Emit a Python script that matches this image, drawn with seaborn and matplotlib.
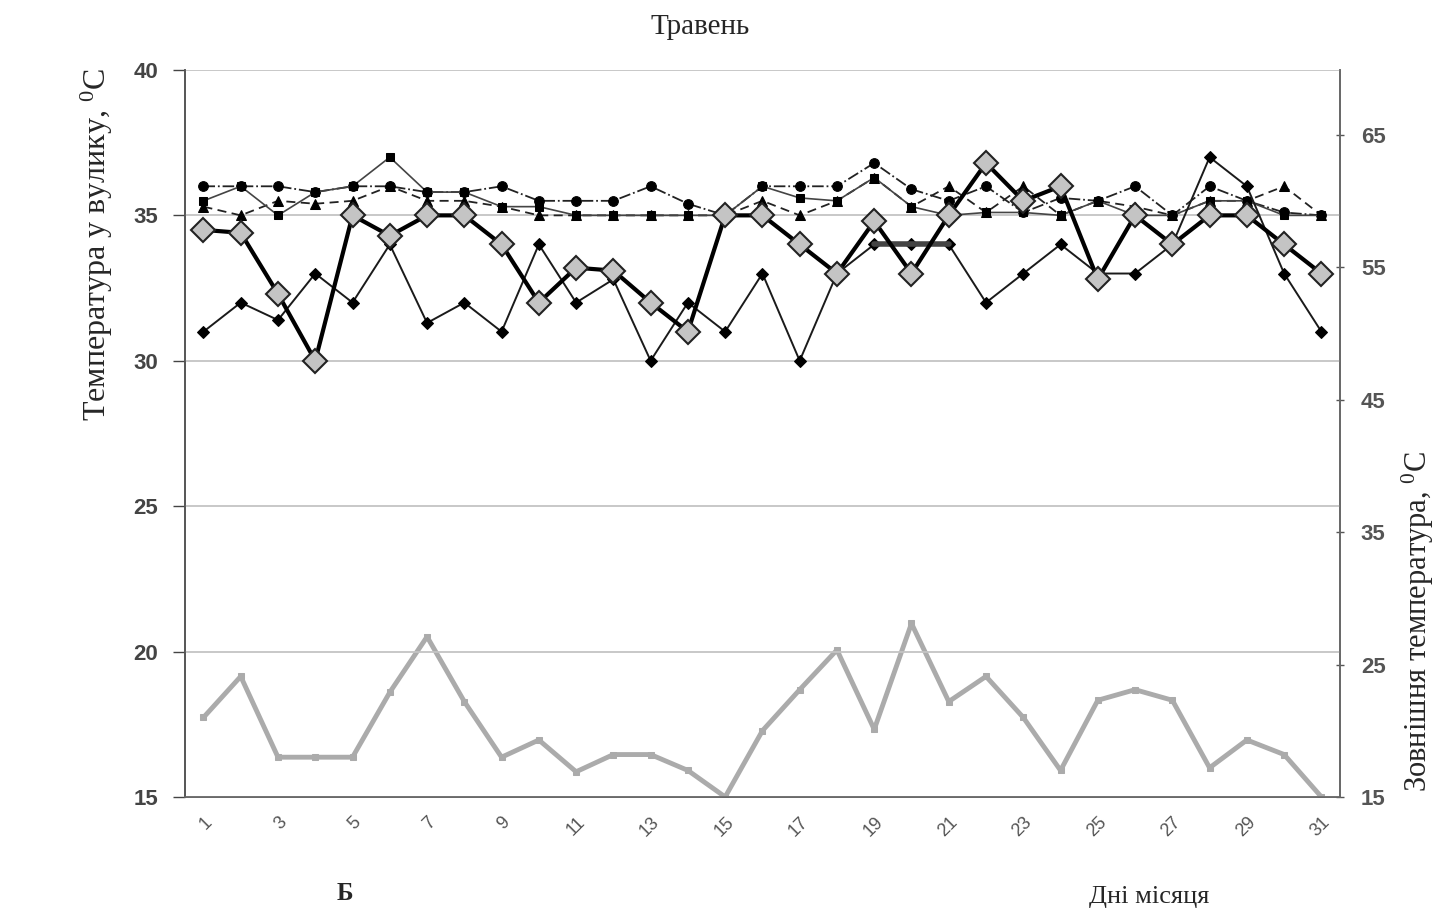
import numpy as np
import pandas as pd
import matplotlib
matplotlib.use("Agg")
import matplotlib.pyplot as plt
import seaborn as sns

# ---------------- data ----------------
days = list(range(1, 32))
tick_days = list(range(1, 32, 2))
left_ticks = [15, 20, 25, 30, 35, 40]
right_ticks = [15, 25, 35, 45, 55, 65]

hive_a = [34.5, 34.4, 32.3, 30.0, 35.0, 34.3, 35.0, 35.0, 34.0, 32.0, 33.2, 33.1, 32.0, 31.0, 35.0, 35.0,
          34.0, 33.0, 34.8, 33.0, 35.0, 36.8, 35.5, 36.0, 32.8, 35.0, 34.0, 35.0, 35.0, 34.0, 33.0]
hive_b = [31.0, 32.0, 31.4, 33.0, 32.0, 34.0, 31.3, 32.0, 31.0, 34.0, 32.0, 32.8, 30.0, 32.0, 31.0, 33.0,
          30.0, 33.0, 34.0, 34.0, 34.0, 32.0, 33.0, 34.0, 33.0, 33.0, 34.0, 37.0, 36.0, 33.0, 31.0]
hive_c = [35.5, 36.0, 35.0, 35.8, 36.0, 37.0, 35.8, 35.8, 35.3, 35.3, 35.0, 35.0, 35.0, 35.0, 35.0, 36.0,
          35.6, 35.5, 36.3, 35.3, 35.0, 35.1, 35.1, 35.0, 35.5, 35.0, 35.0, 35.5, 35.5, 35.0, 35.0]
hive_d = [36.0, 36.0, 36.0, 35.8, 36.0, 36.0, 35.8, 35.8, 36.0, 35.5, 35.5, 35.5, 36.0, 35.4, 35.0, 36.0,
          36.0, 36.0, 36.8, 35.9, 35.5, 36.0, 35.1, 35.6, 35.5, 36.0, 35.0, 36.0, 35.5, 35.1, 35.0]
hive_e = [35.3, 35.0, 35.5, 35.4, 35.5, 36.0, 35.5, 35.5, 35.3, 35.0, 35.0, 35.0, 35.0, 35.0, 35.0, 35.5,
          35.0, 35.5, 36.3, 35.3, 36.0, 35.1, 36.0, 35.0, 35.5, 35.3, 35.0, 35.5, 35.5, 36.0, 35.0]
short_days = [19, 20, 21]
short_vals = [34.0, 34.0, 34.0]
outside = [21.0, 24.1, 18.0, 18.0, 18.0, 22.9, 27.1, 22.2, 18.0, 19.3, 16.9, 18.2, 18.2, 17.0, 15.0, 20.0,
           23.1, 26.1, 20.1, 28.1, 22.2, 24.1, 21.0, 17.0, 22.3, 23.1, 22.3, 17.2, 19.3, 18.2, 15.0]

title = "Травень"
ylabel_left = "Температура у вулику, $^0$C"
ylabel_right = "Зовнішня температура, $^0$C"
xlabel = "Дні місяця"
panel = "Б"

# ---------------- style ----------------
sns.set_theme(style="white")
plt.rcParams["font.family"] = ["Liberation Sans", "DejaVu Sans"]
plt.rcParams["mathtext.fontset"] = "custom"
plt.rcParams["mathtext.rm"] = "Liberation Serif"
plt.rcParams["mathtext.it"] = "Liberation Serif"
serif = ["Liberation Serif", "DejaVu Serif"]

df = pd.DataFrame({"day": days, "a": hive_a, "b": hive_b, "c": hive_c,
                   "d": hive_d, "e": hive_e, "out": outside})
df_short = pd.DataFrame({"day": short_days, "v": short_vals})

fig = plt.figure(figsize=(14.44, 9.16), dpi=100)
ax = fig.add_axes([0.128, 0.130, 0.800, 0.7936])
ax2 = ax.twinx()

# outside temperature on the right axis
sns.lineplot(data=df, x="day", y="out", ax=ax2, color="#ababab", lw=3.5,
             marker="s", markersize=5, markeredgecolor="#ababab", zorder=2)

# hive series on the left axis
sns.lineplot(data=df, x="day", y="e", ax=ax, color="#222222", lw=1.3, linestyle=(0, (5, 3)),
             marker="^", markersize=7, markeredgecolor="black", markerfacecolor="black")
sns.lineplot(data=df, x="day", y="d", ax=ax, color="#222222", lw=1.3, linestyle="-.",
             marker="o", markersize=7, markeredgecolor="black", markerfacecolor="black")
sns.lineplot(data=df, x="day", y="c", ax=ax, color="#444444", lw=1.2,
             marker="s", markersize=6, markeredgecolor="black", markerfacecolor="black")
sns.lineplot(data=df, x="day", y="b", ax=ax, color="#1a1a1a", lw=1.4,
             marker="D", markersize=6, markeredgecolor="black", markerfacecolor="black")
sns.lineplot(data=df_short, x="day", y="v", ax=ax, color="#444444", lw=4)
sns.lineplot(data=df, x="day", y="a", ax=ax, color="black", lw=3,
             marker="D", markersize=12, markeredgecolor="#222222", markeredgewidth=1.5,
             markerfacecolor="#c4c4c4")

ax.set_zorder(ax2.get_zorder() + 1)
ax.patch.set_visible(False)

# axes limits/ticks
ax.set_xlim(0.5, 31.5)
ax.set_ylim(15, 40)
ax2.set_ylim(15, 69.9)
ax.set_yticks(left_ticks)
ax2.set_yticks(right_ticks)
ax.set_xticks(tick_days)
ax.set_xticklabels([str(d) for d in tick_days], rotation=45, ha="right", va="top",
                   rotation_mode="anchor", fontsize=13, color="#555555")
ax.tick_params(axis="y", labelsize=16, colors="#444444", length=9, width=1, direction="out", pad=10)
ax2.tick_params(axis="y", labelsize=16, colors="#555555", length=6, width=1, direction="inout", pad=12)
ax.tick_params(axis="x", length=4, direction="out", pad=8)
for lab in ax.get_yticklabels() + ax2.get_yticklabels():
    lab.set_fontweight("bold")

ax.set_xlabel("")
ax.set_ylabel("")
ax2.set_ylabel("")
ax.yaxis.grid(True, color="#c4c4c4", lw=1.3)
ax.xaxis.grid(False)

for a in (ax, ax2):
    a.spines["top"].set_visible(False)
    a.spines["left"].set_color("#555555")
    a.spines["right"].set_color("#666666")
    a.spines["bottom"].set_color("#666666")
    for s in ("left", "right", "bottom"):
        a.spines[s].set_linewidth(1.2)

# texts
fig.text(0.485, 0.970, title, ha="center", va="center", fontsize=21, family=serif)
fig.text(0.067, 0.733, ylabel_left, ha="center", va="center", rotation=90, fontsize=23, family=serif)
fig.text(0.982, 0.322, ylabel_right, ha="center", va="center", rotation=90, fontsize=22, family=serif)
fig.text(0.796, 0.021, xlabel, ha="center", va="center", fontsize=19, family=serif)
fig.text(0.239, 0.025, panel, ha="center", va="center", fontsize=18, family=serif, fontweight="bold")

fig.savefig("out.png", dpi=100, facecolor="white")
